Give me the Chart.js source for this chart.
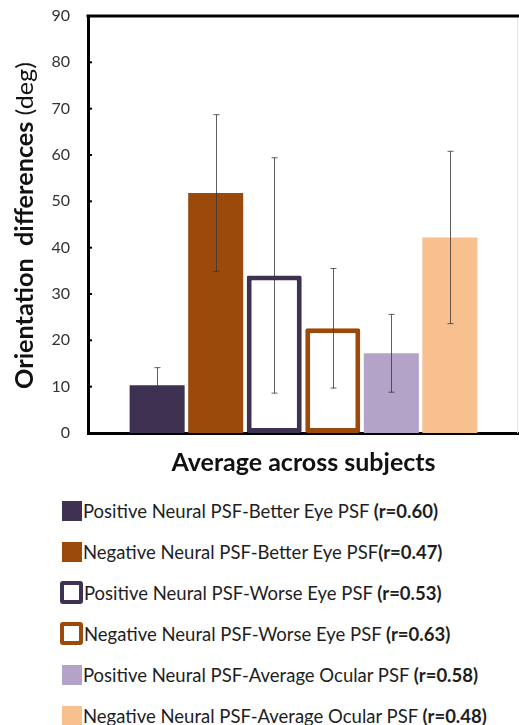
<!DOCTYPE html>
<html>
<head>
<meta charset="utf-8">
<script src="https://cdn.jsdelivr.net/npm/chart.js@4.4.1/dist/chart.umd.min.js"></script>
<style>
  body { margin: 0; background: #fff; font-family: Lato, sans-serif; }
  #wrap { position: relative; width: 519px; height: 725px; overflow: hidden; }
  #chartBox { position: absolute; left: 0; top: 0; width: 519px; height: 485px; }
  #legend { position: absolute; left: 0; top: 490px; width: 519px; }
  .row { height: 41px; display: flex; align-items: center; color: #1e1e1e; font-size: 18.5px; white-space: pre; }
  .swatch { box-sizing: border-box; width: 20px; height: 20px; margin-left: 62px; margin-right: 1px; }
  .swatch.outline { width: 23px; height: 23px; margin-left: 60px; border: 4px solid; border-radius: 3px; background: #fff; }
  .r { font-weight: bold; }
</style>
</head>
<body>
<div id="wrap">
  <div id="chartBox"><canvas id="barChart"></canvas></div>
  <div id="legend"></div>
</div>
<script>
const categories = ['Average across subjects'];
const seriesNames = [
  'Positive Neural PSF-Better Eye PSF ',
  'Negative Neural PSF-Better Eye PSF',
  'Positive Neural PSF-Worse Eye PSF ',
  'Negative Neural PSF-Worse Eye PSF ',
  'Positive Neural PSF-Average Ocular PSF ',
  'Negative Neural PSF-Average Ocular PSF '
];
const rValues = ['0.60', '0.47', '0.53', '0.63', '0.58', '0.48'];
const means = [10.3, 51.8, 34.0, 22.6, 17.2, 42.2];
const errors = [3.8, 16.9, 25.4, 12.9, 8.4, 18.6];
const yTicks = [0, 10, 20, 30, 40, 50, 60, 70, 80, 90];

const fillColors = ['#3f3152', '#9c4a0c', '#ffffff', '#ffffff', '#b3a3c9', '#f8c08f'];
const edgeColors = ['#3f3152', '#9c4a0c', '#3f3152', '#9c4a0c', '#b3a3c9', '#f8c08f'];
const outlined = [false, false, true, true, false, false];

const titleBold = 'Orientation  differences ';
const titleUnit = '(deg)';

// error bars, drawn from the y scale
const errorBars = {
  id: 'errorBars',
  afterDatasetsDraw(chart) {
    const { ctx, scales: { y } } = chart;
    ctx.save();
    ctx.strokeStyle = 'rgba(55,55,55,0.8)';
    ctx.lineWidth = 1;
    chart.data.datasets.forEach((ds, i) => {
      const bar = chart.getDatasetMeta(i).data[0];
      const top = y.getPixelForValue(means[i] + errors[i]);
      const bot = y.getPixelForValue(means[i] - errors[i]);
      const x = Math.round(bar.x) + 0.5;
      ctx.beginPath();
      ctx.moveTo(x, top); ctx.lineTo(x, bot);
      ctx.moveTo(x - 3, top); ctx.lineTo(x + 3, top);
      ctx.moveTo(x - 3, bot); ctx.lineTo(x + 3, bot);
      ctx.stroke();
    });
    ctx.restore();
  }
};

// top frame line + inner tick marks
const topLine = {
  id: 'topLine',
  afterDraw(chart) {
    const { ctx, chartArea: a, scales: { y } } = chart;
    ctx.save();
    ctx.fillStyle = '#000';
    ctx.fillRect(a.left - 1.5, a.top - 1.5, chart.width - a.left + 1.5, 3);
    yTicks.forEach(v => {
      ctx.fillRect(a.left, y.getPixelForValue(v) - 1, 4, 2);
    });
    ctx.fillStyle = '#e4e4e4';
    ctx.fillRect(chart.width - 2, a.top + 2, 1, a.bottom - a.top - 2);
    ctx.restore();
  }
};

// y title with mixed weights
const yTitle = {
  id: 'yTitle',
  afterDraw(chart) {
    const { ctx, chartArea: a } = chart;
    ctx.save();
    ctx.translate(33, (a.top + a.bottom) / 2 + 1);
    ctx.rotate(-Math.PI / 2);
    ctx.font = 'bold 24px Lato';
    const w1 = ctx.measureText(titleBold).width;
    ctx.font = '24px Lato';
    const w2 = ctx.measureText(titleUnit).width;
    ctx.scale(327 / (w1 + w2), 1);
    ctx.fillStyle = '#111';
    ctx.textBaseline = 'alphabetic';
    ctx.font = 'bold 24px Lato';
    ctx.fillText(titleBold, -(w1 + w2) / 2, 0);
    ctx.font = '24px Lato';
    ctx.fillText(titleUnit, -(w1 + w2) / 2 + w1, 0);
    ctx.restore();
  }
};

try {
  const ctx = document.getElementById('barChart').getContext('2d');
  new Chart(ctx, {
    type: 'bar',
    data: {
      labels: categories,
      datasets: seriesNames.map((name, i) => ({
        label: name,
        data: [means[i]],
        backgroundColor: fillColors[i],
        borderColor: edgeColors[i],
        borderWidth: outlined[i] ? 5 : 0,
        borderRadius: outlined[i] ? 2 : 0,
        borderSkipped: false,
        categoryPercentage: 0.815,
        barPercentage: 0.94
      }))
    },
    options: {
      responsive: true,
      maintainAspectRatio: false,
      animation: false,
      layout: { padding: { top: 16, left: 0, right: 0, bottom: 0 } },
      plugins: {
        legend: { display: false },
        tooltip: { enabled: false }
      },
      scales: {
        x: {
          grid: { display: false, drawTicks: false },
          border: { color: '#000', width: 3 },
          ticks: { color: '#111', padding: 15, font: { family: 'Lato', size: 25, weight: 'bold' } },
          afterFit: s => { s.height = 52; }
        },
        y: {
          min: yTicks[0],
          max: yTicks[yTicks.length - 1],
          grid: { display: false, drawTicks: false },
          border: { color: '#000', width: 3 },
          ticks: { stepSize: 10, color: '#333', padding: 18, font: { family: 'Lato', size: 16 } },
          afterFit: s => {
            s.width = 88;
            s.paddingTop = 0;
            s.paddingBottom = 0;
          }
        }
      }
    },
    plugins: [errorBars, topLine, yTitle]
  });
} catch (err) {
  console.error('Error rendering chart:', err);
}

// legend with bold r values
const legend = document.getElementById('legend');
seriesNames.forEach((name, i) => {
  const row = document.createElement('div');
  row.className = 'row';
  const sw = document.createElement('span');
  sw.className = outlined[i] ? 'swatch outline' : 'swatch';
  if (outlined[i]) sw.style.borderColor = edgeColors[i];
  else sw.style.background = fillColors[i];
  const txt = document.createElement('span');
  txt.textContent = name;
  const r = document.createElement('span');
  r.className = 'r';
  r.textContent = '(r=' + rValues[i] + ')';
  row.append(sw, txt, r);
  legend.appendChild(row);
});
</script>
</body>
</html>
